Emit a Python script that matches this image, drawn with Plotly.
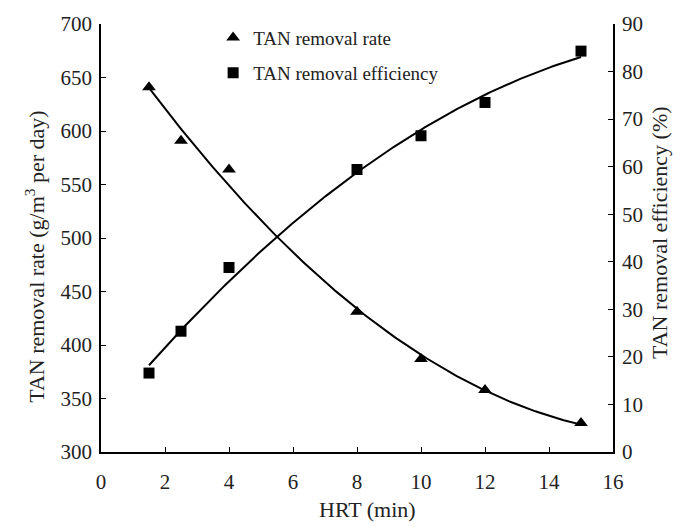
import numpy as np
import plotly.graph_objects as go

hrt = [1.5, 2.5, 4, 8, 10, 12, 15]
removal_rate = [641, 591, 564, 431, 387, 358, 327]
removal_eff = [16.6, 25.4, 38.8, 59.4, 66.5, 73.5, 84.3]

x_ticks = [0, 2, 4, 6, 8, 10, 12, 14, 16]

xf = np.linspace(min(hrt), max(hrt), 200)
rate_fit = np.polyval(np.polyfit(hrt, removal_rate, 2), xf)
eff_fit = np.polyval(np.polyfit(hrt, removal_eff, 2), xf)

FONT = "Liberation Serif, Times New Roman, serif"
TXT = "#222"
fig = go.Figure()

fig.add_trace(go.Scatter(x=xf, y=rate_fit, mode="lines", line=dict(color="black", width=2),
                         showlegend=False, hoverinfo="skip"))
fig.add_trace(go.Scatter(x=xf, y=eff_fit, mode="lines", line=dict(color="black", width=2),
                         showlegend=False, hoverinfo="skip", yaxis="y2"))
fig.add_trace(go.Scatter(x=hrt, y=removal_rate, mode="markers", name="TAN removal rate",
                         marker=dict(symbol="triangle-up", size=12, color="black"), legend="legend"))
fig.add_trace(go.Scatter(x=hrt, y=removal_eff, mode="markers", name="TAN removal efficiency",
                         marker=dict(symbol="square", size=11, color="black"), yaxis="y2", legend="legend2"))

axis_common = dict(showline=True, linecolor="black", linewidth=1.5, ticks="inside", ticklen=5,
                   tickcolor="black", showgrid=False, zeroline=False,
                   tickfont=dict(family=FONT, size=21, color=TXT))

title_font = dict(family=FONT, size=22, color=TXT)

fig.update_layout(
    width=680, height=527,
    margin=dict(l=101, r=67, t=22, b=75),
    plot_bgcolor="white", paper_bgcolor="white",
    font=dict(family=FONT, color=TXT),
    xaxis=dict(range=[0, 16], tickvals=x_ticks, ticklabelstandoff=10, **axis_common),
    yaxis=dict(range=[300, 700], dtick=50, ticklabelstandoff=3, **axis_common),
    yaxis2=dict(range=[0, 90], dtick=10, overlaying="y", side="right", ticklabelstandoff=3,
                **axis_common),
    legend=dict(x=0.219, y=0.968, xanchor="left", yanchor="middle", bgcolor="rgba(0,0,0,0)",
                font=dict(family=FONT, size=19, color=TXT), itemwidth=30),
    legend2=dict(x=0.219, y=0.886, xanchor="left", yanchor="middle", bgcolor="rgba(0,0,0,0)",
                 font=dict(family=FONT, size=19, color=TXT), itemwidth=30),
    annotations=[
        dict(text="HRT (min)", xref="paper", yref="paper", x=0.521, y=-0.135,
             xanchor="center", yanchor="middle", showarrow=False, font=title_font),
        dict(text="TAN removal rate (g/m<sup>3</sup> per day)", xref="paper", yref="paper",
             x=-0.129, y=0.456, xanchor="center", yanchor="middle", textangle=-90,
             showarrow=False, font=title_font),
        dict(text="TAN removal efficiency (%)", xref="paper", yref="paper",
             x=1.092, y=0.512, xanchor="center", yanchor="middle", textangle=-90,
             showarrow=False, font=title_font),
    ],
)

fig.write_html("out.html")
